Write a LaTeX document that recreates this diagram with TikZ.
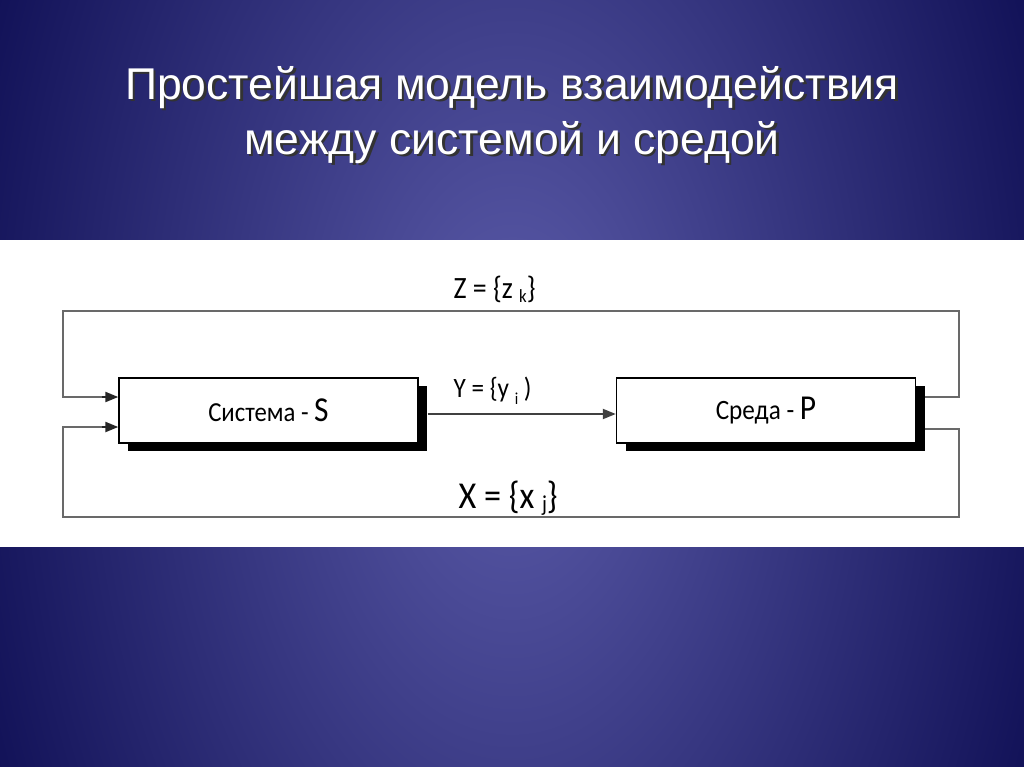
\documentclass[tikz,border=0pt]{standalone}
\usepackage{fontspec}
\setmainfont{Carlito}
\newfontfamily\titlefont{Liberation Sans}
\newfontfamily\diagfont[FakeStretch=0.9]{Carlito}
\usetikzlibrary{positioning, arrows.meta, shadows}
\definecolor{bgin}{RGB}{92,92,170}
\definecolor{bgout}{RGB}{18,18,88}
\definecolor{wiregray}{RGB}{105,105,105}
\newcommand{\sub}[2][0.25em]{\raisebox{-#1}{\scalebox{0.6}{#2}}}
\newcommand{\shtext}[1]{\makebox[0pt][l]{\hspace{2.5pt}\raisebox{-2.5pt}{\textcolor{black!80}{#1}}}\textcolor{white}{#1}}

\tikzset{
  block/.style={draw=black, line width=1.4pt, fill=white, minimum width=299pt,
    minimum height=65pt, inner sep=0pt,
    general shadow={fill=black, shadow xshift=9pt, shadow yshift=-8pt}},
  wire/.style={draw=wiregray, line width=2pt},
  feed/.style={draw=black!85, line width=2.2pt, -{Triangle[length=13pt,width=10pt]}},
}

\begin{document}
\begin{tikzpicture}[x=1pt,y=-1pt]
    \useasboundingbox (0,0) rectangle (1024,767);
    \begin{scope}
      \clip (0,0) rectangle (1024,767);
      \shade[inner color=bgin, outer color=bgout] (-51,-560) rectangle (1075,1327);
    \end{scope}
    \node[font=\titlefont\fontsize{44.5}{55}\selectfont, align=center] (title) at (512,116)
      {\shtext{Простейшая модель взаимодействия}\\\shtext{между системой и средой}};
    \fill[white] (0,240) rectangle (1024,547);

    \node[block, font=\diagfont\fontsize{27.5}{26}\selectfont] (sys) at (268.5,410.5)
      {Система - {\fontsize{35}{34}\selectfont S}};
    \node[block, font=\diagfont\fontsize{28}{28}\selectfont] (env) at (766,410.5)
      {Среда - {\fontsize{35}{35}\selectfont P}};

    \coordinate (zR) at (959,311);
    \coordinate (zL) at (63,311);
    \coordinate (xR) at (959,517);
    \coordinate (xL) at (63,517);

    \draw[wire] ([xshift=9pt,yshift=13.5pt]env.east) -| (zR) -- (zL) |- ([yshift=13.5pt,xshift=-16pt]sys.west);
    \draw[feed] ([yshift=13.5pt,xshift=-16pt]sys.west) -- ([yshift=13.5pt]sys.west);
    \draw[wire] ([xshift=9pt,yshift=-18.5pt]env.east) -| (xR) -- (xL) |- ([yshift=-16.5pt,xshift=-16pt]sys.west);
    \draw[feed] ([yshift=-16.5pt,xshift=-16pt]sys.west) -- ([yshift=-16.5pt]sys.west);
    \draw[feed, draw=black!75, line width=2pt] ([xshift=9pt,yshift=-3.5pt]sys.east) -- ([yshift=-3.5pt]env.west);

    \node[font=\diagfont\fontsize{31}{31}\selectfont, anchor=base west] (zlab) at (450,298)
      {Z = \{z \sub[0.15em]{k}\}};
    \node[font=\diagfont\fontsize{28}{28}\selectfont, anchor=base west] (ylab) at (450,397)
      {Y = \{y \sub[0.25em]{i} )};
    \node[font=\diagfont\fontsize{38}{38}\selectfont, anchor=base west] (xlab) at (455,508)
      {X = \{x \sub[0.08em]{j}\}};
\end{tikzpicture}
\end{document}
